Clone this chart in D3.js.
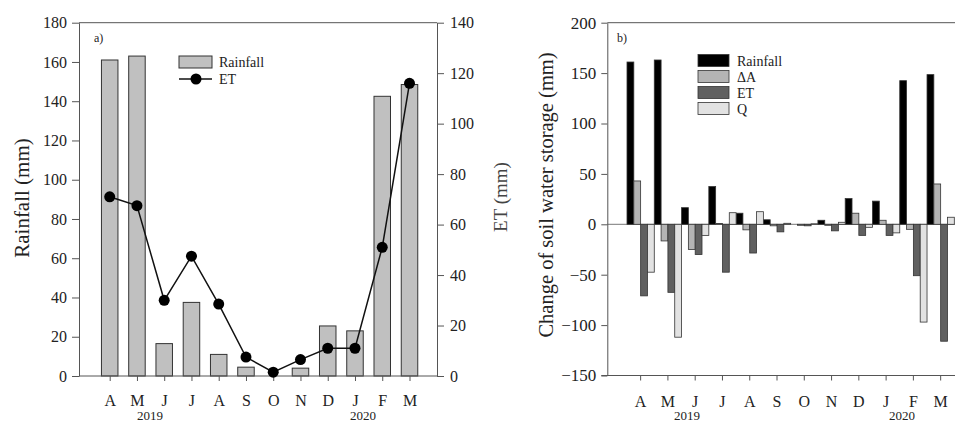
<!DOCTYPE html>
<html><head><meta charset="utf-8">
<script src="https://cdn.jsdelivr.net/npm/d3@7"></script>
<style>
html,body{margin:0;padding:0;background:#fff;}
svg{display:block;font-family:"Liberation Serif","Times New Roman",serif;}
.axis path,.axis line{stroke:#555;}
.axis text{fill:#222;font-family:"Liberation Serif","Times New Roman",serif;}
</style></head>
<body>
<svg id="chart" width="955" height="425"></svg>
<script>
const months = ["A","M","J","J","A","S","O","N","D","J","F","M"];
const years = ["2019","2020"];
const rainfall = [161, 163, 16.5, 37.5, 11, 4.5, 0, 4, 25.5, 23, 142.5, 148.5];
const et = [71, 67.5, 30, 47.5, 28.5, 7.5, 1.5, 6.5, 11, 11, 51, 116];
const etChange = [-71, -67.5, -30, -47.5, -28.5, -7.5, -1.5, -6.5, -11, -11, -51, -116];
const deltaA = [43, -16.5, -25, 0.8, -5.5, -1.5, -1, -1, 11, 4, -5, 40];
const runoff = [-47.5, -112, -11, 11.5, 12.5, 1, 0.5, 2, -3, -8.5, -97, 7];
const seriesNames = ["Rainfall", "\u0394A", "ET", "Q"];
const leftTicks = [0,20,40,60,80,100,120,140,160,180];
const rightTicks = [0,20,40,60,80,100,120,140];
const bTicks = [-150,-100,-50,0,50,100,150,200];

const svg = d3.select("#chart");
const idx = months.map((m,i)=>i);

// ---------------- Panel a ----------------
const A = {left:79, right:437, top:22.7, bottom:376};
const xa = d3.scalePoint().domain(idx).range([109.7, 409.5]);
const yRain = d3.scaleLinear().domain([0,180]).range([A.bottom, A.top]);
const yET = d3.scaleLinear().domain([0,140]).range([A.bottom, A.top]);
const ga = svg.append("g");
const barW = 16.5;

ga.selectAll("rect.rain").data(idx).join("rect")
  .attr("x", i=>xa(i)-barW/2).attr("width", barW)
  .attr("y", i=>yRain(rainfall[i])).attr("height", i=>yRain(0)-yRain(rainfall[i]))
  .attr("fill","#c0c0c0").attr("stroke","#333").attr("stroke-width",1);

ga.append("line").attr("x1",A.left).attr("x2",A.right).attr("y1",A.top).attr("y2",A.top).attr("stroke","#555");

const axL = ga.append("g").attr("class","axis").attr("transform",`translate(${A.left},0)`)
  .call(d3.axisLeft(yRain).tickValues(leftTicks).tickSize(7).tickPadding(5).tickSizeOuter(0));
axL.selectAll("text").style("font-size","16px");
const axR = ga.append("g").attr("class","axis").attr("transform",`translate(${A.right},0)`)
  .call(d3.axisRight(yET).tickValues(rightTicks).tickSize(7).tickPadding(6).tickSizeOuter(0));
axR.selectAll("text").style("font-size","16px");
const axB = ga.append("g").attr("class","axis").attr("transform",`translate(0,${A.bottom})`)
  .call(d3.axisBottom(xa).tickFormat(i=>months[i]).tickSize(5).tickPadding(14).tickSizeOuter(0));
axB.select("path").attr("d",`M${A.left},0H${A.right}`);
axB.selectAll("text").style("font-size","16px");

ga.append("path").datum(idx)
  .attr("d", d3.line().x(i=>xa(i)).y(i=>yET(et[i])))
  .attr("fill","none").attr("stroke","#111").attr("stroke-width",1.5);
ga.selectAll("circle.et").data(idx).join("circle")
  .attr("cx", i=>xa(i)).attr("cy", i=>yET(et[i])).attr("r",5.5).attr("fill","#000");

ga.append("text").attr("x",94).attr("y",42).style("font-size","12px").attr("fill","#222").text("a)");
ga.append("text").attr("transform","translate(29,198) rotate(-90)").attr("text-anchor","middle")
  .style("font-size","21px").attr("fill","#222").text("Rainfall (mm)");
ga.append("text").attr("transform","translate(507,197) rotate(-90)").attr("text-anchor","middle")
  .style("font-size","19px").attr("fill","#444").text("ET (mm)");
ga.append("text").attr("x",150).attr("y",420).attr("text-anchor","middle").style("font-size","13px").attr("fill","#222").text(years[0]);
ga.append("text").attr("x",363).attr("y",420).attr("text-anchor","middle").style("font-size","13px").attr("fill","#222").text(years[1]);

const la = ga.append("g");
la.append("rect").attr("x",179).attr("y",56).attr("width",33).attr("height",12).attr("fill","#c0c0c0").attr("stroke","#333");
la.append("text").attr("x",219).attr("y",67).style("font-size","14px").attr("fill","#222").text("Rainfall");
la.append("line").attr("x1",179).attr("x2",212).attr("y1",79).attr("y2",79).attr("stroke","#111").attr("stroke-width",1.5);
la.append("circle").attr("cx",196).attr("cy",79).attr("r",5.5).attr("fill","#000");
la.append("text").attr("x",219).attr("y",84).style("font-size","14px").attr("fill","#222").text("ET");

// ---------------- Panel b ----------------
const B = {left:607.3, right:960, top:22.7, bottom:375.5};
const xb = d3.scaleBand().domain(idx).range([627, 954.3]).paddingInner(0).paddingOuter(0);
const xs = d3.scaleBand().domain(seriesNames).range([0, xb.bandwidth()]);
const yb = d3.scaleLinear().domain([-150,200]).range([B.bottom, B.top]);
const gb = svg.append("g");
const colors = {"Rainfall":"#000000","\u0394A":"#b4b4b4","ET":"#606060","Q":"#e2e2e2"};
const seriesData = [rainfall, deltaA, etChange, runoff];

gb.append("line").attr("x1",B.left).attr("x2",B.right).attr("y1",B.top).attr("y2",B.top).attr("stroke","#555");
gb.append("line").attr("x1",B.left).attr("x2",B.right).attr("y1",yb(0)).attr("y2",yb(0)).attr("stroke","#777");

seriesNames.forEach((s,si)=>{
  gb.selectAll("rect.s"+si).data(idx.filter(i=>seriesData[si][i]!==0)).join("rect")
    .attr("x", i=>xb(i)+xs(s)).attr("width", xs.bandwidth())
    .attr("y", i=>yb(Math.max(0,seriesData[si][i])))
    .attr("height", i=>Math.abs(yb(seriesData[si][i])-yb(0)))
    .attr("fill", colors[s]).attr("stroke","#333").attr("stroke-width",0.8);
});

const bxL = gb.append("g").attr("class","axis").attr("transform",`translate(${B.left},0)`)
  .call(d3.axisLeft(yb).tickValues(bTicks).tickSize(6).tickPadding(5).tickSizeOuter(0));
bxL.selectAll("text").style("font-size","17px");
const bxB = gb.append("g").attr("class","axis").attr("transform",`translate(0,${B.bottom})`)
  .call(d3.axisBottom(xb).tickFormat(i=>months[i]).tickSize(5).tickPadding(15).tickSizeOuter(0));
bxB.select("path").attr("d",`M${B.left-6},0H${B.right}`);
bxB.selectAll("text").style("font-size","16px");

gb.append("text").attr("x",617).attr("y",42).style("font-size","12px").attr("fill","#222").text("b)");
gb.append("text").attr("transform","translate(553,195) rotate(-90)").attr("text-anchor","middle")
  .style("font-size","20.5px").attr("fill","#222").text("Change of soil water storage (mm)");
gb.append("text").attr("x",687).attr("y",420).attr("text-anchor","middle").style("font-size","13px").attr("fill","#222").text(years[0]);
gb.append("text").attr("x",902).attr("y",420).attr("text-anchor","middle").style("font-size","13px").attr("fill","#222").text(years[1]);

const lb = gb.append("g");
seriesNames.forEach((s,si)=>{
  const y0 = 54.5 + si*16;
  lb.append("rect").attr("x",698).attr("y",y0).attr("width",31).attr("height",12)
    .attr("fill",colors[s]).attr("stroke","#333").attr("stroke-width",0.8);
  lb.append("text").attr("x",737).attr("y",y0+11).style("font-size","14px").attr("fill","#222").text(s);
});
</script>
</body></html>
